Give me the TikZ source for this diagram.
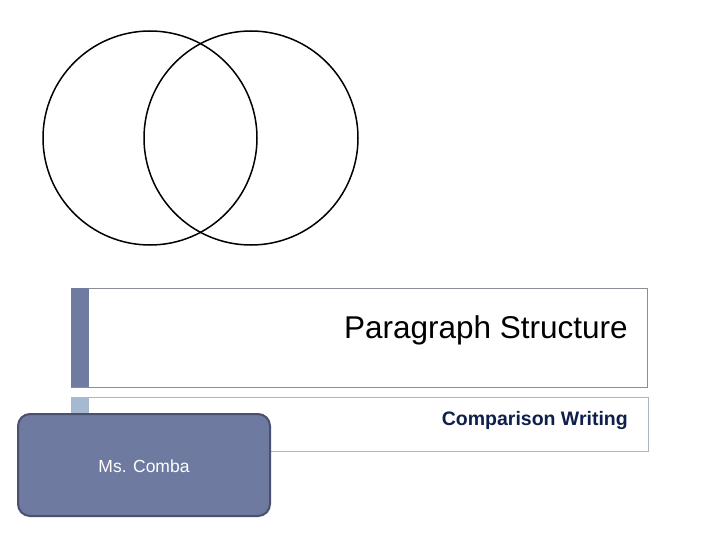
\documentclass[tikz,border=0pt]{standalone}
\usepackage{fontspec}
\setmainfont{Liberation Sans}
\definecolor{barA}{HTML}{6F7BA1}
\definecolor{barB}{HTML}{A7B9D0}
\definecolor{boxline}{HTML}{8A8E96}
\definecolor{boxlineB}{HTML}{AAB4C4}
\definecolor{subtxt}{HTML}{0F1F4C}
\definecolor{namefill}{HTML}{6E7AA0}
\definecolor{nameline}{HTML}{4B5070}
\begin{document}
\begin{tikzpicture}[x=1pt,y=-1pt,
  venn/.style={draw=black,line width=1.5pt},
  titlebox/.style={draw=boxline,line width=0.8pt,fill=white},
  subbox/.style={draw=boxlineB,line width=0.8pt,fill=white}]
\useasboundingbox (0,0) rectangle (720,540);
% Venn circles
\draw[venn] (150,138) circle (107);
\draw[venn] (251,138) circle (107);
% title box
\draw[titlebox] (71,288) rectangle (647,387);
\fill[barA] (71.4,288.4) rectangle (89,386.6);
\node[anchor=east,font=\fontsize{31.5}{34}\selectfont,inner sep=0pt] (title) at (628,330.5) {Paragraph Structure};
% subtitle box
\draw[subbox] (71,397) rectangle (648,451);
\fill[barB] (71.4,397.4) rectangle (89,450.6);
\node[anchor=east,font=\fontsize{19.5}{22}\selectfont\bfseries,text=subtxt,inner sep=0pt] (sub) at (628,420.5) {Comparison Writing};
% name box
\draw[fill=namefill,draw=nameline,line width=2pt,rounded corners=12pt] (18,414) rectangle (270,516);
\node[font=\fontsize{17.5}{20}\selectfont,text=white] (name) at (144,466) {Ms. Comba};
\end{tikzpicture}
\end{document}
